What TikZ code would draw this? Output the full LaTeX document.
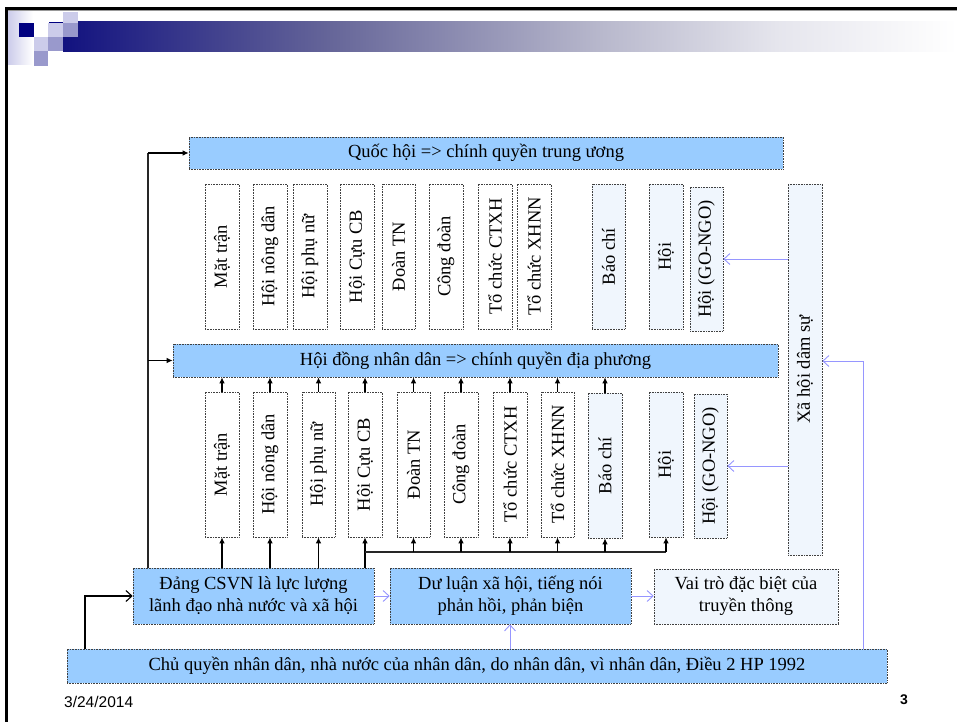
\documentclass[tikz,border=0pt]{standalone}
\usepackage{graphicx}
\usepackage{fontspec}
\setmainfont{Liberation Serif}
\newfontfamily\arialf{Liberation Sans}
\usetikzlibrary{arrows.meta}
\definecolor{bbox}{RGB}{153,204,255}
\definecolor{lbox}{RGB}{240,246,253}
\definecolor{blu}{RGB}{150,150,255}
\definecolor{navyc}{RGB}{0,0,128}
\definecolor{lav}{RGB}{204,204,234}
\definecolor{mlav}{RGB}{153,153,204}
\pgfdeclarehorizontalshading{barshade}{100bp}{rgb(0bp)=(0.07,0.07,0.5); rgb(25bp)=(0.07,0.07,0.5); rgb(40bp)=(0.4,0.4,0.6); rgb(55bp)=(0.72,0.72,0.8); rgb(65bp)=(0.9,0.9,0.93); rgb(75bp)=(1,1,1); rgb(100bp)=(1,1,1)}
\newcommand\mybox[7]{\node[#6, minimum width={(#4)-(#2)}, minimum height={(#5)-(#3)}] (#1) at ({((#2)+(#4))/2},{((#3)+(#5))/2}) {#7};}
\newcommand\rt[1]{\rotatebox{90}{#1}}
\begin{document}
\begin{tikzpicture}[x=1pt,y=-1pt,
  box/.style={draw=black!75, densely dotted, line width=0.6pt, inner sep=0pt,
    font=\fontsize{18.5}{22}\selectfont, align=center},
  bbx/.style={box, fill=bbox},
  lbx/.style={box, fill=lbox},
  wbx/.style={box, fill=white},
  ln/.style={line width=1.1pt, black!85},
  blk/.style={line width=1.1pt, black, -{Latex[length=6pt,width=5.5pt]}},
  opn/.style={line width=1.1pt, black, -{Straight Barb[length=6pt,width=11pt]}},
  bl/.style={draw=blu, line width=0.9pt, -{Straight Barb[length=6pt,width=11pt]}}
]
\useasboundingbox (0,0) rectangle (957,722);
\fill[white] (0,0) rectangle (957,722);
% slide frame and header decoration
\fill[black] (5,7.5) rectangle (957,10.5);
\fill[black!40] (5,10.5) rectangle (957,11.5);
\fill[black] (5,7.5) rectangle (7.5,722);
\shade[left color=lav, right color=white] (8,12) rectangle (33,65);
\shade[shading=barshade] (63,22) rectangle (957,52);
\fill[navyc] (49,22) rectangle (63,23);
\fill[navyc] (19,23) rectangle (34,37);
\fill[lav] (48,23) rectangle (63,37);
\fill[lav] (63,12) rectangle (78,23);
\fill[mlav] (63,23) rectangle (78,37);
\fill[lav] (34,37) rectangle (48,51);
\fill[mlav] (48,37) rectangle (63,51);
\fill[mlav] (34,51) rectangle (48,66);

% big boxes
\mybox{qh}{189}{137}{783}{169}{bbx}{Quốc hội => chính quyền trung ương}
\mybox{hd}{173}{344}{778}{377}{bbx}{Hội đồng nhân dân => chính quyền địa phương}

% top row
\mybox{t1}{205}{184}{239}{329}{wbx}{\rt{Mặt trận}}
\mybox{t2}{253}{184}{287}{329}{wbx}{\rt{Hội nông dân}}
\mybox{t3}{293}{184}{327}{329}{wbx}{\rt{Hội phụ nữ}}
\mybox{t4}{340}{184}{374}{329}{wbx}{\rt{Hội Cựu CB}}
\mybox{t5}{382}{184}{415}{329}{wbx}{\rt{Đoàn TN}}
\mybox{t6}{429}{184}{463}{329}{wbx}{\rt{Công đoàn}}
\mybox{t7}{478}{184}{512}{329}{wbx}{\rt{Tổ chức CTXH}}
\mybox{t8}{517}{184}{551}{329}{wbx}{\rt{Tổ chức XHNN}}
\mybox{t9}{592}{184}{625}{329}{lbx}{\rt{Báo chí}}
\mybox{t10}{649}{184}{683}{329}{lbx}{\rt{Hội}}
\mybox{t11}{690}{187}{723}{331}{lbx}{\rt{Hội (GO-NGO)}}

% bottom row
\mybox{b1}{205}{392}{239}{537}{wbx}{\rt{Mặt trận}}
\mybox{b2}{253}{392}{287}{537}{wbx}{\rt{Hội nông dân}}
\mybox{b3}{302}{392}{335}{537}{wbx}{\rt{Hội phụ nữ}}
\mybox{b4}{348}{392}{382}{537}{wbx}{\rt{Hội Cựu CB}}
\mybox{b5}{397}{392}{430}{537}{wbx}{\rt{Đoàn TN}}
\mybox{b6}{444}{392}{478}{537}{wbx}{\rt{Công đoàn}}
\mybox{b7}{493}{392}{527}{537}{wbx}{\rt{Tổ chức CTXH}}
\mybox{b8}{541}{392}{574}{537}{wbx}{\rt{Tổ chức XHNN}}
\mybox{b9}{588}{393}{622}{538}{lbx}{\rt{Báo chí}}
\mybox{b10}{649}{392}{683}{537}{lbx}{\rt{Hội}}
\mybox{b11}{694}{394}{727}{538}{lbx}{\rt{Hội (GO-NGO)}}

\mybox{xh}{788}{184}{822}{555}{lbx}{\rt{Xã hội dâm sự}}

% lower boxes
\mybox{dang}{133}{568}{374}{624}{bbx}{Đảng CSVN là lực lượng\\lãnh đạo nhà nước và xã hội}
\mybox{dl}{390}{568}{631}{624}{bbx}{Dư luận xã hội, tiếng nói\\phản hồi, phản biện}
\mybox{vt}{654}{569}{838}{624}{lbx}{Vai trò đặc biệt của\\truyền thông}
\mybox{cq}{67}{649}{887}{683}{bbx}{Chủ quyền nhân dân, nhà nước của nhân dân, do nhân dân, vì nhân dân, Điều 2 HP 1992}

% connectors
\foreach \i in {1,...,9} \draw[blk] (b\i.north) -- (b\i.north |- hd.south);
\foreach \i in {1,...,4} \draw[blk] (b\i.south |- dang.north) -- (b\i.south);
\coordinate (hy) at (0,552);
\draw[ln] (b4.south |- hy) -- (b10.south |- hy);
\foreach \i in {5,...,10} \draw[blk] (b\i.south |- hy) -- (b\i.south);
\coordinate (lx) at (148,0);
\draw[ln] (lx |- dang.north) -- (lx |- qh.west);
\draw[blk] (lx |- qh.west) -- (qh.west);
\draw[blk] (lx |- hd.west) -- (hd.west);
\coordinate (cx) at (85,0);
\draw[opn] (cx |- cq.north) -- (cx |- dang.west) -- (dang.west);
\draw[bl] (dang.east) -- (dl.west);
\draw[bl] (dl.east) -- (dl.east -| vt.west);
\coordinate (dx) at (510,0);
\draw[bl] (dx |- cq.north) -- (dx |- dl.south);
\coordinate (ry) at (863,361);
\draw[bl] (ry |- cq.north) -- (ry) -- (ry -| xh.east);
\draw[bl] (xh.west |- t11.east) -- (t11.east);
\draw[bl] (xh.west |- b11.east) -- (b11.east);

% footer
\node[anchor=base west, inner sep=0pt, font=\arialf\fontsize{15.5}{18}\selectfont] (date) at (64,707) {3/24/2014};
\node[anchor=base east, inner sep=0pt, font=\arialf\bfseries\fontsize{14}{16}\selectfont] (pg) at (908,704) {3};
\end{tikzpicture}
\end{document}
